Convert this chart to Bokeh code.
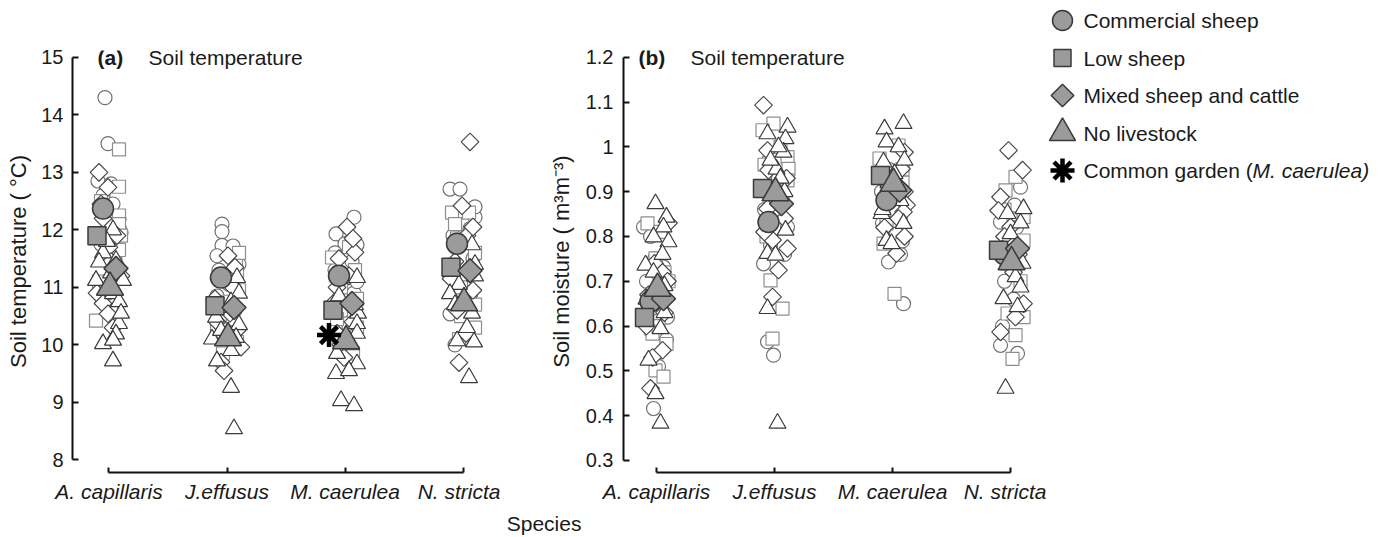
import math
from bokeh.plotting import figure
from bokeh.models import Range1d, FixedTicker, PrintfTickFormatter, Label
from bokeh.layouts import row
from bokeh.embed import file_html
from bokeh.resources import INLINE
from bokeh.core.properties import value

# ---------------- data ----------------
SPECIES = ["A. capillaris", "J.effusus", "M. caerulea", "N. stricta"]
GROUP_KEYS = ["cs", "ls", "mx", "nl"]
GROUP_NAMES = ["Commercial sheep", "Low sheep", "Mixed sheep and cattle", "No livestock"]
GARDEN_NAME_A = "Common garden ("
GARDEN_NAME_B = "M. caerulea)"

TEMP_TICKS = [8, 9, 10, 11, 12, 13, 14, 15]
MOIST_TICKS = [0.3, 0.4, 0.5, 0.6, 0.7, 0.8, 0.9, 1.0, 1.1, 1.2]

# Soil temperature, individual plots (per species), jitter in px
temp_cs_val = [[14.3, 13.5, 12.85, 12.8, 12.45, 12.2, 12.05, 11.95, 11.75, 11.5, 11.1, 10.7, 12.6, 11.3],
               [12.1, 11.97, 11.73, 11.72, 11.4, 11.3, 11.05, 10.85, 10.6, 10.2, 11.55, 10.95],
               [12.22, 11.93, 11.76, 11.74, 11.45, 11.3, 10.9, 10.6, 10.3, 11.6, 11.1],
               [12.71, 12.71, 12.22, 12.02, 11.5, 11.2, 10.9, 10.54, 10.0, 12.4, 11.9]]
temp_cs_jit = [[-4, -1, -11, 2, 4, 10, 10, 12, -8, 6, -2, 4, -6, 10],
               [-5, -5, -5, 6, 12, -8, 2, -10, 8, -4, -10, 10],
               [9, -9, 0, 12, 7, -10, 9, -2, 4, -10, 12],
               [-13, -3, 12, 7, 10, -10, 8, -13, -8, 12, -10]]
temp_ls_val = [[13.4, 12.75, 12.5, 12.25, 12.1, 11.65, 11.3, 10.9, 10.42, 10.6, 11.9, 11.1],
               [11.5, 11.25, 10.95, 10.75, 10.45, 10.3, 10.05, 9.85, 11.6, 10.15],
               [11.52, 11.3, 11.0, 10.8, 10.55, 10.3, 10.1, 9.85, 11.7, 10.45],
               [12.3, 12.3, 12.1, 11.6, 11.0, 10.7, 10.3, 10.1, 11.85, 10.5]]
temp_ls_jit = [[10, 10, -8, 10, 10, 10, 8, -4, -13, 2, 12, -10],
               [9, 10, 12, -2, 6, -10, 10, -4, 12, 6],
               [-13, 10, -4, 12, 9, 12, -6, 8, 4, -8],
               [-11, 6, -8, 12, -2, 12, 12, -4, -6, -2]]
temp_mx_val = [[13.0, 12.74, 12.2, 11.7, 11.45, 11.2, 10.9, 10.72, 10.54, 10.3, 12.45, 11.9],
               [11.55, 11.35, 11.0, 10.8, 10.55, 10.25, 9.96, 9.7, 9.55, 11.15, 10.4],
               [12.05, 11.61, 11.5, 11.2, 11.0, 10.75, 10.4, 10.0, 9.78, 11.85, 10.2],
               [13.53, 12.42, 11.9, 11.45, 10.95, 10.6, 10.2, 9.69, 12.05, 11.15]]
temp_mx_jit = [[-10, -1, -6, 0, 2, 12, -12, -6, -1, 4, -8, 8],
               [1, 8, 6, -12, 3, 10, 14, -6, -3, -8, -10],
               [2, 10, -6, 4, -8, -10, 8, -4, -1, 8, -8],
               [7, -1, 4, -8, 10, -6, 3, -4, 10, -12]]
temp_nl_val = [[12.0, 11.6, 11.44, 11.47, 11.25, 11.12, 11.12, 10.89, 10.75, 10.37, 10.19, 10.02, 10.08, 9.72, 11.8, 10.55],
               [11.17, 10.9, 10.65, 10.48, 10.35, 10.13, 10.1, 9.9, 9.72, 9.26, 8.54, 10.75, 10.25],
               [11.17, 10.85, 10.55, 10.37, 10.2, 10.0, 9.67, 9.5, 9.55, 9.03, 8.94, 10.7, 9.85],
               [11.74, 11.4, 11.05, 10.89, 10.55, 10.3, 10.07, 10.05, 9.43, 11.2, 10.7]]
temp_nl_jit = [[4, -6, -10, 7, 2, -13, 14, 4, 10, 10, 7, -6, 4, 4, -2, 12],
               [10, 12, -8, -11, 12, 9, -15, 4, -10, 4, 7, 4, -6],
               [12, -6, 13, 12, 12, 6, 12, -9, 4, -4, 9, 10, -8],
               [9, 12, -4, -13, 9, 4, -6, 11, 6, 12, -8]]

# Soil moisture, individual plots
moist_cs_val = [[0.821, 0.8, 0.732, 0.7, 0.68, 0.62, 0.59, 0.57, 0.51, 0.416, 0.75, 0.64],
                [0.966, 0.93, 0.86, 0.821, 0.78, 0.739, 0.565, 0.535, 0.9, 0.76],
                [0.95, 0.9, 0.87, 0.806, 0.76, 0.743, 0.65, 0.92, 0.83, 0.79],
                [0.91, 0.87, 0.832, 0.78, 0.7, 0.6, 0.557, 0.539, 0.82, 0.66]]
moist_cs_jit = [[-13, -6, 7, -10, 4, 11, -6, 10, 2, -3, -2, -4],
                [-7, 4, -10, 13, -4, -11, -7, -1, -8, 10],
                [-4, -11, 6, 4, 8, -4, 11, -6, -10, 10],
                [10, 4, -10, 12, -6, -8, -10, 7, 6, 3]]
moist_ls_val = [[0.829, 0.81, 0.751, 0.72, 0.65, 0.583, 0.56, 0.501, 0.487, 0.7, 0.6],
                [1.052, 1.037, 0.977, 0.951, 0.925, 0.88, 0.8, 0.702, 0.639, 0.572, 1.0, 0.96],
                [1.003, 0.974, 0.92, 0.88, 0.829, 0.784, 0.672, 0.95, 0.86],
                [0.933, 0.903, 0.843, 0.791, 0.74, 0.628, 0.62, 0.58, 0.527, 0.86, 0.7]]
moist_ls_jit = [[-9, 4, -1, 8, -4, -4, 10, -1, 7, 12, 2],
                [-1, -12, 13, 14, 13, 8, -8, -4, 8, -2, 6, -10],
                [6, -13, 10, -2, -6, -9, 2, 10, 4],
                [5, -5, 13, 13, -4, -3, 13, 5, 2, -6, 10]]
moist_mx_val = [[0.83, 0.74, 0.72, 0.70, 0.67, 0.63, 0.546, 0.53, 0.461, 0.6],
                [1.093, 0.992, 0.948, 0.862, 0.84, 0.792, 0.773, 0.725, 0.665, 0.93, 0.81],
                [0.988, 0.951, 0.9, 0.87, 0.855, 0.82, 0.762, 0.93, 0.84, 0.8],
                [0.992, 0.948, 0.888, 0.858, 0.821, 0.76, 0.65, 0.62, 0.587, 0.8, 0.72]]
moist_mx_jit = [[12, -2, 6, 11, -8, 8, 6, -4, -6, -10],
                [-11, -7, -6, -7, 10, -2, 13, 4, -2, 12, -10],
                [12, 9, 12, 14, 11, -8, 4, -8, 6, 12],
                [-2, 12, -10, -12, 0, 8, 13, 5, -10, -6, 3]]
moist_nl_val = [[0.873, 0.843, 0.821, 0.799, 0.788, 0.736, 0.72, 0.69, 0.594, 0.524, 0.449, 0.383, 0.76, 0.66, 0.63],
                [1.044, 1.029, 1.018, 0.988, 0.95, 0.9, 0.814, 0.762, 0.758, 0.639, 0.383, 1.0, 0.97, 0.93],
                [1.052, 1.04, 1.011, 1.0, 0.966, 0.94, 0.851, 0.829, 0.791, 0.784, 0.97, 0.92, 0.88, 0.86],
                [0.862, 0.851, 0.806, 0.77, 0.71, 0.687, 0.661, 0.643, 0.461, 0.83, 0.74]]
moist_nl_jit = [[-1, 10, 7, -3, 12, -11, -3, 8, 4, -8, -1, 4, 6, -10, 8],
                [13, -7, 11, 9, 2, 10, 11, -7, 1, -7, 3, 4, -4, 6],
                [11, -8, -6, 6, -9, 2, -11, 11, -6, -1, 12, -4, 8, -10],
                [13, -3, 0, -8, 5, 10, -7, 7, -5, 10, 12]]

# Group means per species
temp_mean_cs = [12.37, 11.17, 11.2, 11.76]
temp_mean_ls = [11.9, 10.68, 10.6, 11.35]
temp_mean_mx = [11.33, 10.65, 10.72, 11.29]
temp_mean_nl = [11.0, 10.12, 10.07, 10.73]
moist_mean_cs = [0.655, 0.832, 0.881, 0.76]
moist_mean_ls = [0.619, 0.907, 0.936, 0.769]
moist_mean_mx = [0.661, 0.873, 0.903, 0.773]
moist_mean_nl = [0.684, 0.897, 0.918, 0.743]
mean_jit = {"cs": -6, "ls": -12, "mx": 7, "nl": 1}

# Common garden (M. caerulea) temperature
garden_species = 2
garden_temp = 10.17
garden_jit = -16

# ---------------- styles ----------------
PX_PER_CAT = 118.0
FONT = "Liberation Sans"
TXT = "#1a1a1a"
MEAN_FILL = "#9b9b9b"
MEAN_LINE = "#3a3a3a"
STYLE = {
    "cs": dict(marker="circle", size=14, msize=21, line="#707070", angle=0.0),
    "ls": dict(marker="square", size=13, msize=18, line="#8e8e8e", angle=0.0),
    "mx": dict(marker="square", size=12.5, msize=17, line="#4a4a4a", angle=math.pi / 4),
    "nl": dict(marker="triangle", size=17, msize=27, line="#3a3a3a", angle=0.0),
}


def points(vals, jits):
    xs, ys = [], []
    for i, (vv, jj) in enumerate(zip(vals, jits)):
        for v, j in zip(vv, jj):
            xs.append(i + j / PX_PER_CAT)
            ys.append(v)
    return xs, ys


def style_fig(p, yticks, ybounds, ylabel, fmt=None):
    p.outline_line_color = None
    p.background_fill_color = "white"
    p.border_fill_color = "white"
    p.grid.visible = False
    xa = p.xaxis[0]
    ya = p.yaxis[0]
    xa.ticker = FixedTicker(ticks=[0, 1, 2, 3])
    xa.major_label_overrides = {i: s for i, s in enumerate(SPECIES)}
    xa.bounds = (0, 3)
    ya.ticker = FixedTicker(ticks=yticks)
    ya.bounds = ybounds
    if fmt is not None:
        ya.formatter = fmt
    for ax in (xa, ya):
        ax.axis_line_color = "#111111"
        ax.axis_line_width = 2
        ax.major_tick_line_color = "#111111"
        ax.major_tick_line_width = 2
        ax.major_tick_out = 0
        ax.minor_tick_line_color = None
        ax.major_label_text_font = FONT
        ax.major_label_text_color = TXT
    xa.major_tick_in = 5
    ya.major_tick_in = 6
    xa.major_label_text_font_size = "21px"
    xa.major_label_text_font_style = "italic"
    xa.major_label_standoff = 7
    ya.major_label_text_font_size = "20px"
    ya.major_label_standoff = 9
    ya.axis_label = ylabel
    ya.axis_label_text_font = FONT
    ya.axis_label_text_font_size = "22px"
    ya.axis_label_text_font_style = "normal"
    ya.axis_label_text_color = TXT
    ya.axis_label_standoff = 7


def draw_panel(p, vals, jits, means):
    for k in GROUP_KEYS:
        st = STYLE[k]
        xs, ys = points(vals[k], jits[k])
        p.scatter(xs, ys, marker=st["marker"], size=st["size"], angle=st["angle"],
                  fill_color="white", line_color=st["line"], line_width=1.2)
    for k in GROUP_KEYS:
        st = STYLE[k]
        xs = [i + mean_jit[k] / PX_PER_CAT for i in range(len(SPECIES))]
        p.scatter(xs, means[k], marker=st["marker"], size=st["msize"], angle=st["angle"],
                  fill_color=MEAN_FILL, line_color=MEAN_LINE, line_width=1.5)


def add_title(p, x_tag, x_text, y, tag):
    p.add_layout(Label(x=x_tag, y=y, text=tag, text_font=FONT, text_font_size="21px",
                       text_font_style="bold", text_color=TXT, text_baseline="middle",
                       text_align="left"))
    p.add_layout(Label(x=x_text, y=y, text="Soil temperature", text_font=FONT,
                       text_font_size="21px", text_color=TXT, text_baseline="middle",
                       text_align="left"))


H = 537
# ---------------- panel (a) ----------------
pa = figure(width=500, height=H, x_range=Range1d(-0.3093, 3.216), y_range=Range1d(7.78, 15.12),
            min_border_left=72, min_border_right=12, min_border_top=50, min_border_bottom=65,
            output_backend="svg", toolbar_location=None)
style_fig(pa, TEMP_TICKS, (8, 15), "Soil temperature ( °C)")
draw_panel(pa,
           {"cs": temp_cs_val, "ls": temp_ls_val, "mx": temp_mx_val, "nl": temp_nl_val},
           {"cs": temp_cs_jit, "ls": temp_ls_jit, "mx": temp_mx_jit, "nl": temp_nl_jit},
           {"cs": temp_mean_cs, "ls": temp_mean_ls, "mx": temp_mean_mx, "nl": temp_mean_nl})
pa.scatter([garden_species + garden_jit / PX_PER_CAT], [garden_temp], marker="asterisk",
           size=24, line_color="black", line_width=4.5)
add_title(pa, -0.0975, 0.335, 15.0, "(a)")

# ---------------- panel (b) ----------------
pb = figure(width=546, height=H, x_range=Range1d(-0.2797, 3.254), y_range=Range1d(0.2732, 1.215),
            min_border_left=123, min_border_right=6, min_border_top=50, min_border_bottom=65,
            output_backend="svg", toolbar_location=None)
style_fig(pb, MOIST_TICKS, (0.3, 1.2), "Soil moisture ( m³m⁻³)", PrintfTickFormatter(format="%g"))
pb.yaxis[0].major_label_standoff = 10
pb.yaxis[0].axis_label_standoff = 9
draw_panel(pb,
           {"cs": moist_cs_val, "ls": moist_ls_val, "mx": moist_mx_val, "nl": moist_nl_val},
           {"cs": moist_cs_jit, "ls": moist_ls_jit, "mx": moist_mx_jit, "nl": moist_nl_jit},
           {"cs": moist_mean_cs, "ls": moist_mean_ls, "mx": moist_mean_mx, "nl": moist_mean_nl})
add_title(pb, -0.1525, 0.288, 1.2, "(b)")
pb.add_layout(Label(x=-0.953, y=0.1594, text="Species", text_font=FONT, text_font_size="21px",
                    text_color=TXT, text_align="center", text_baseline="middle"), "below")

# ---------------- legend ----------------
ROW = 37.5
pl = figure(width=340, height=H, x_range=Range1d(-16, 324),
            y_range=Range1d((H - 20) / ROW, -20 / ROW),
            x_axis_type=None, y_axis_type=None, min_border=0,
            output_backend="svg", toolbar_location=None)
try:
    pl.frame_align = False
except Exception:
    pass
pl.outline_line_color = None
pl.grid.visible = False
for r, k in enumerate(GROUP_KEYS):
    st = STYLE[k]
    pl.scatter([0], [r], marker=st["marker"], size=st["msize"] - 1, angle=st["angle"],
               fill_color=MEAN_FILL, line_color=MEAN_LINE, line_width=1.5)
pl.scatter([0], [len(GROUP_KEYS)], marker="asterisk", size=24, line_color="black", line_width=4.5)
pl.text(x=[0] * len(GROUP_NAMES), y=list(range(len(GROUP_NAMES))), text=GROUP_NAMES,
        x_offset=21, text_font=value(FONT), text_font_size="21px", text_color=TXT,
        text_baseline="middle", text_align="left")
pl.text(x=[0], y=[len(GROUP_NAMES)], text=[GARDEN_NAME_A], x_offset=21, text_font=value(FONT),
        text_font_size="21px", text_color=TXT, text_baseline="middle", text_align="left")
pl.text(x=[0], y=[len(GROUP_NAMES)], text=[GARDEN_NAME_B], x_offset=190, text_font=value(FONT),
        text_font_size="21px", text_font_style="italic", text_color=TXT,
        text_baseline="middle", text_align="left")

layout = row(pa, pb, pl)
open("out.html", "w").write(file_html(layout, INLINE))
